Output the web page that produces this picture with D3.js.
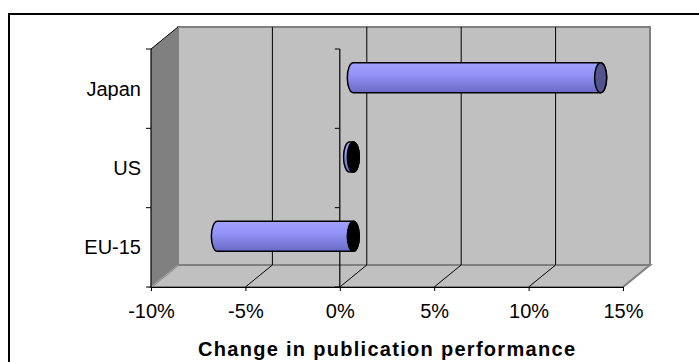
<!DOCTYPE html>
<html>
<head>
<meta charset="utf-8">
<script src="https://cdn.jsdelivr.net/npm/d3@7"></script>
<style>
  html, body { margin: 0; padding: 0; background: #fff; }
  svg { display: block; }
  text { font-family: "Liberation Sans", Arial, sans-serif; fill: #000; }
</style>
</head>
<body>
<svg id="chart" width="699" height="362"></svg>
<script>
// Change in publication performance by region
const categories = ["Japan", "US", "EU-15"];
const changes = [13.1, -0.2, -7.2];           // percent
const tickValues = [-10, -5, 0, 5, 10, 15];   // percent
const axisTitle = "Change in publication performance";

const svg = d3.select("#chart");

// Plot geometry: front plane and the depth offset of the 3D box
const front = { left: 151, right: 623, top: 49, bottom: 287 };
const depth = { dx: 27, dy: -22 };

const x = d3.scaleLinear().domain([-10, 15]).range([front.left, front.right]);
const y = d3.scaleBand().domain(categories).range([front.top, front.bottom]).padding(0);

// Outer frame
svg.append("rect")
  .attr("x", 9).attr("y", 14).attr("width", 720).attr("height", 400)
  .attr("fill", "none").attr("stroke", "#000").attr("stroke-width", 2);

const box = svg.append("g");
const bx = v => x(v) + depth.dx;
const backTop = front.top + depth.dy, backBottom = front.bottom + depth.dy;

// Back wall
box.append("rect")
  .attr("x", bx(-10)).attr("y", backTop)
  .attr("width", bx(15) - bx(-10)).attr("height", backBottom - backTop)
  .attr("fill", "#c0c0c0").attr("stroke", "#808080").attr("stroke-width", 2);

// Floor
box.append("path")
  .attr("d", `M${x(-10)},${front.bottom} L${bx(-10)},${backBottom} L${bx(15)},${backBottom} L${x(15)},${front.bottom} Z`)
  .attr("fill", "#c0c0c0").attr("stroke", "#808080").attr("stroke-width", 2);

// Left side wall
box.append("path")
  .attr("d", `M${x(-10)},${front.top} L${bx(-10)},${backTop} L${bx(-10)},${backBottom} L${x(-10)},${front.bottom} Z`)
  .attr("fill", "#808080");
box.append("line")
  .attr("x1", x(-10)).attr("y1", front.top).attr("x2", bx(-10)).attr("y2", backTop)
  .attr("stroke", "#000").attr("stroke-width", 1);
box.append("line")
  .attr("x1", x(-10)).attr("y1", front.bottom).attr("x2", bx(-10)).attr("y2", backBottom)
  .attr("stroke", "#a8a8a8").attr("stroke-width", 1);

// Gridlines: vertical on the back wall, diagonal across the floor
const inner = tickValues.filter(v => v > -10 && v < 15);
box.selectAll(".grid-back").data(inner).join("line")
  .attr("x1", d => bx(d)).attr("x2", d => bx(d))
  .attr("y1", backTop).attr("y2", backBottom)
  .attr("stroke", "#000").attr("stroke-width", 1);
box.selectAll(".grid-floor").data(inner).join("line")
  .attr("x1", d => x(d)).attr("y1", front.bottom)
  .attr("x2", d => bx(d)).attr("y2", backBottom)
  .attr("stroke", "#000").attr("stroke-width", 1);

// Left value-axis line with category ticks
const bounds = categories.map(c => y(c)).concat([front.bottom]);
box.append("line")
  .attr("x1", x(-10)).attr("x2", x(-10)).attr("y1", front.top).attr("y2", front.bottom)
  .attr("stroke", "#000").attr("stroke-width", 1.2);
box.selectAll(".tick-left").data(bounds).join("line")
  .attr("x1", x(-10) - 5).attr("x2", x(-10)).attr("y1", d => d).attr("y2", d => d)
  .attr("stroke", "#000");

// Category axis crossing at zero
box.append("line")
  .attr("x1", x(0)).attr("x2", x(0)).attr("y1", front.top).attr("y2", front.bottom)
  .attr("stroke", "#000").attr("stroke-width", 1.2);
box.selectAll(".tick-zero").data(bounds).join("line")
  .attr("x1", x(0) - 5).attr("x2", x(0)).attr("y1", d => d).attr("y2", d => d)
  .attr("stroke", "#000");

// Bars: cylinders placed at mid-depth
const defs = svg.append("defs");
const grad = defs.append("linearGradient").attr("id", "barFill")
  .attr("x1", 0).attr("y1", 0).attr("x2", 0).attr("y2", 1);
grad.append("stop").attr("offset", "0%").attr("stop-color", "#a2a2ff");
grad.append("stop").attr("offset", "40%").attr("stop-color", "#9292f8");
grad.append("stop").attr("offset", "100%").attr("stop-color", "#6a6ac4");

const rx = 6, ry = 15;
const midDx = depth.dx / 2, midDy = depth.dy / 2;
const bars = svg.append("g").selectAll("g").data(categories.map((c, i) => ({ c, v: changes[i] }))).join("g");
bars.each(function(d) {
  const g = d3.select(this);
  const cy = y(d.c) + y.bandwidth() / 2 + midDy;
  const xa = x(Math.min(0, d.v)) + midDx;
  const xb = x(Math.max(0, d.v)) + midDx;
  const t = cy - ry, b = cy + ry;
  g.append("path")
    .attr("d", `M${xa},${t} L${xb},${t} A${rx},${ry} 0 0 1 ${xb},${b} L${xa},${b} A${rx},${ry} 0 0 1 ${xa},${t} Z`)
    .attr("fill", "url(#barFill)").attr("stroke", "#000").attr("stroke-width", 1.5);
  g.append("ellipse")
    .attr("cx", xb).attr("cy", cy).attr("rx", rx).attr("ry", ry)
    .attr("fill", d.v < 0 ? "#000" : "#52528c")
    .attr("stroke", "#000").attr("stroke-width", 1.5);
});

// Value axis along the front edge of the floor
const xAxis = d3.axisBottom(x).tickValues(tickValues).tickFormat(d => d + "%").tickSize(4).tickSizeOuter(0);
const gx = svg.append("g").attr("transform", `translate(0,${front.bottom})`).call(xAxis);
gx.select(".domain").attr("stroke", "#000").attr("stroke-width", 1.2);
gx.selectAll(".tick line").attr("stroke", "#000");
gx.selectAll(".tick text")
  .attr("y", 31).attr("dy", 0)
  .style("font-size", "20px")
  .style("font-family", "'Liberation Sans', Arial, sans-serif")
  .attr("fill", "#000");

// Category labels
svg.selectAll(".cat").data(categories).join("text")
  .attr("x", 141).attr("y", d => y(d) + y.bandwidth() / 2)
  .attr("dy", "0.35em")
  .attr("text-anchor", "end")
  .style("font-size", "20px")
  .text(d => d);

// Axis title
svg.append("text")
  .attr("x", 386.5).attr("y", 356)
  .attr("text-anchor", "middle")
  .attr("textLength", 377).attr("lengthAdjust", "spacing")
  .style("font-size", "20px").style("font-weight", "bold")
  .text(axisTitle);
</script>
</body>
</html>
